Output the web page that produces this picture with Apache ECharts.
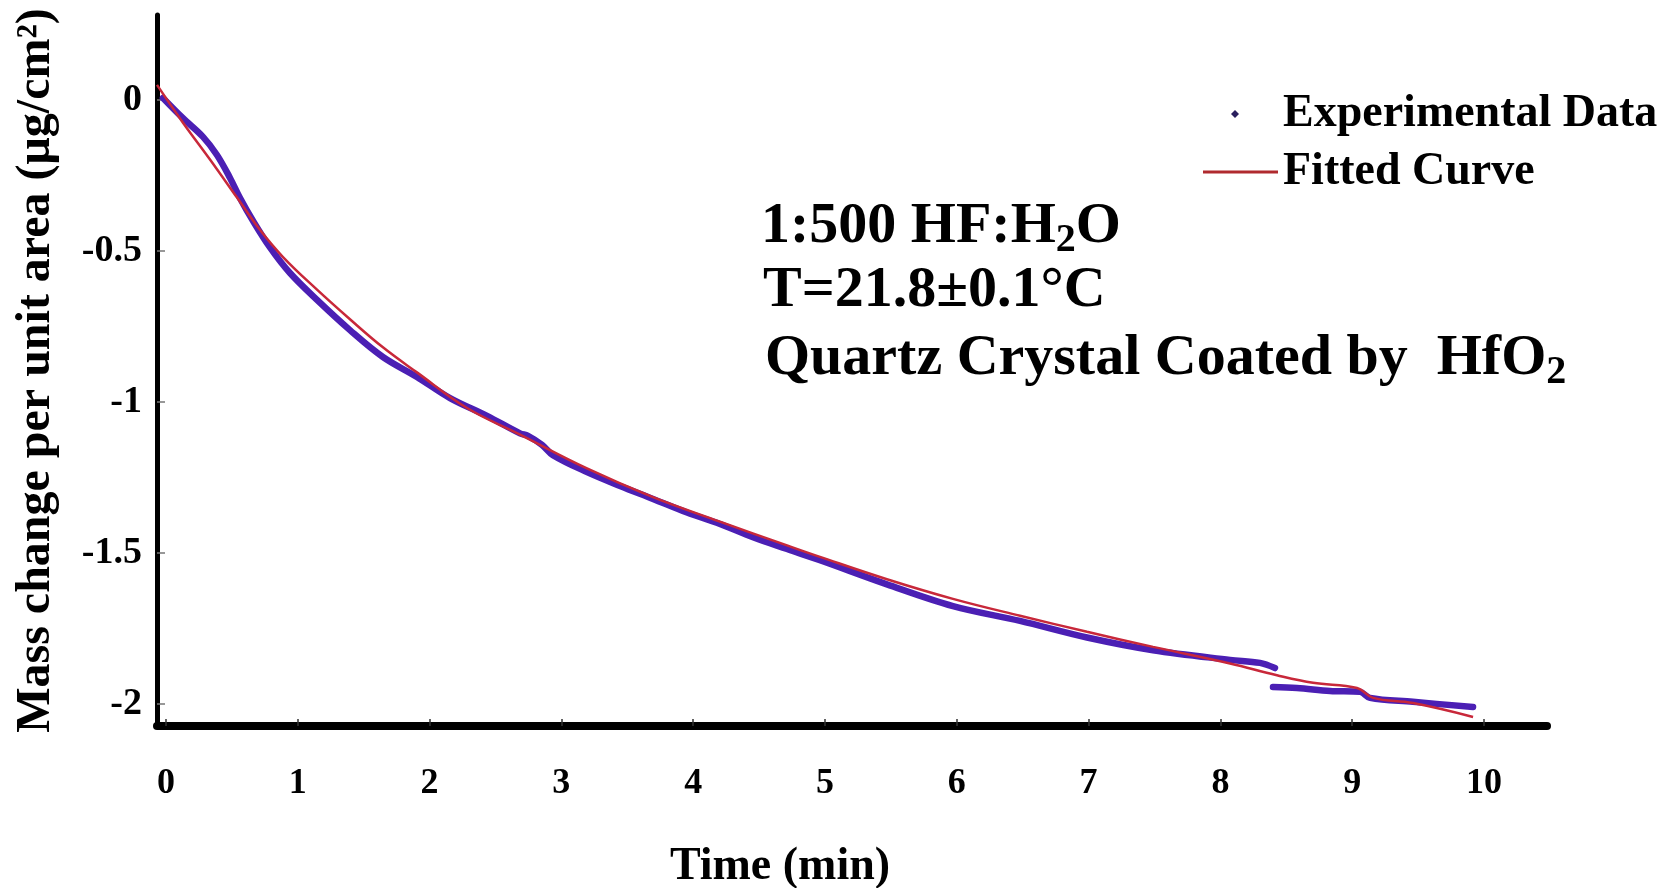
<!DOCTYPE html>
<html>
<head>
<meta charset="utf-8">
<script src="https://cdn.jsdelivr.net/npm/echarts@6/dist/echarts.min.js"></script>
<style>
  html, body { margin: 0; padding: 0; background: #ffffff; }
  #chart { width: 1677px; height: 888px; }
</style>
</head>
<body>
<div id="chart"></div>
<script>
// Etching run: time in minutes, mass change in µg/cm²
const expTime = [-0.023, 0.129, 0.281, 0.387, 0.486, 0.561, 0.660, 0.789, 0.941, 1.146,
  1.396, 1.646, 1.904, 2.155, 2.436, 2.686, 2.747, 2.853, 2.936, 3.194,
  3.445, 3.695, 3.953, 4.203, 4.454, 4.712, 4.962, 5.470, 5.971, 6.480,
  6.988, 7.489, 8.073, 8.300, 8.414, 8.410,
  8.399, 8.581, 8.832, 9.059, 9.135, 9.461, 9.917];
const expMass = [0.007, -0.060, -0.122, -0.182, -0.258, -0.324, -0.400, -0.488, -0.573, -0.662,
  -0.762, -0.851, -0.917, -0.987, -1.046, -1.104, -1.112, -1.142, -1.176, -1.232,
  -1.278, -1.321, -1.366, -1.404, -1.448, -1.487, -1.524, -1.604, -1.676, -1.725,
  -1.780, -1.822, -1.854, -1.864, -1.881, null,
  -1.944, -1.947, -1.957, -1.960, -1.980, -1.993, -2.010];

const fitTime = [-0.068, 0.129, 0.334, 0.539, 0.713, 0.888, 1.146, 1.396, 1.646, 1.904,
  2.284, 2.686, 3.194, 3.695, 4.203, 4.712, 4.962, 5.470, 5.971, 6.480,
  6.988, 7.489, 8.073, 8.429, 8.703, 9.037, 9.158, 9.461, 9.917];
const fitMass = [0.050, -0.075, -0.197, -0.323, -0.430, -0.520, -0.628, -0.726, -0.819, -0.902,
  -1.020, -1.108, -1.220, -1.315, -1.396, -1.475, -1.513, -1.587, -1.652, -1.708,
  -1.761, -1.811, -1.866, -1.905, -1.930, -1.947, -1.980, -1.997, -2.043];

const xTicks = [0, 1, 2, 3, 4, 5, 6, 7, 8, 9, 10];
const yTicks = [0, -0.5, -1, -1.5, -2];

const serif = '"Liberation Serif", "Times New Roman", serif';

const expData = expTime.map((t, i) => [t, expMass[i]]);
const fitData = fitTime.map((t, i) => [t, fitMass[i]]);

const chart = echarts.init(document.getElementById('chart'), null, { renderer: 'canvas' });

const subStyle = { fontSize: 40, fontWeight: 'bold', fontFamily: serif, fill: '#000', padding: [28, 0, 0, 0] };

chart.setOption({
  backgroundColor: '#ffffff',
  animation: false,
  grid: { left: 157, right: 130, top: 15, bottom: 162, containLabel: false, outerBoundsMode: 'none' },
  xAxis: {
    type: 'value',
    min: -0.068,
    max: 10.478,
    name: 'Time (min)',
    nameLocation: 'middle',
    nameGap: 118,
    nameTextStyle: { fontFamily: serif, fontWeight: 'bold', fontSize: 46, color: '#000', padding: [0, 144, 0, 0] },
    axisLine: { show: true, onZero: false, lineStyle: { color: '#000', width: 8 } },
    axisTick: { show: true, inside: true, length: 7, customValues: xTicks, lineStyle: { color: '#333', width: 1.5 } },
    axisLabel: { customValues: xTicks, margin: 40, fontFamily: serif, fontWeight: 'bold', fontSize: 36, color: '#000' },
    splitLine: { show: false }
  },
  yAxis: {
    type: 'value',
    min: -2.073,
    max: 0.2815,
    name: 'Mass change per unit area (μg/cm²)',
    nameLocation: 'middle',
    nameGap: 96,
    nameTextStyle: { fontFamily: serif, fontWeight: 'bold', fontSize: 48, color: '#000' },
    axisLine: { show: true, onZero: false, lineStyle: { color: '#000', width: 5 } },
    axisTick: { show: true, inside: true, length: 8, customValues: yTicks, lineStyle: { color: '#777', width: 1.5 } },
    axisLabel: { customValues: yTicks, margin: 15, fontFamily: serif, fontWeight: 'bold', fontSize: 38, color: '#000' },
    splitLine: { show: false }
  },
  legend: [
    {
      left: 1231, top: 91, padding: 0,
      itemWidth: 8, itemHeight: 8,
      selectedMode: false,
      data: [{ name: 'Experimental Data', icon: 'diamond', itemStyle: { color: '#2a1f5e' } }],
      textStyle: { fontFamily: serif, fontWeight: 'bold', fontSize: 46, lineHeight: 46, color: '#000', padding: [0, 0, 0, 39] }
    },
    {
      left: 1203, top: 149, padding: 0,
      itemWidth: 75, itemHeight: 3,
      selectedMode: false,
      data: [{ name: 'Fitted Curve', icon: 'rect', itemStyle: { color: '#b02a2e' } }],
      textStyle: { fontFamily: serif, fontWeight: 'bold', fontSize: 46, lineHeight: 46, color: '#000' }
    }
  ],
  graphic: [
    {
      type: 'text', left: 761, top: 194, silent: true,
      style: {
        text: '1:500 HF:H{s|2}O',
        font: 'bold 58px ' + serif, fill: '#000', lineHeight: 66,
        rich: { s: subStyle }
      }
    },
    {
      type: 'text', left: 763, top: 258, silent: true,
      style: { text: 'T=21.8±0.1°C', font: 'bold 58px ' + serif, fill: '#000', lineHeight: 66 }
    },
    {
      type: 'text', left: 765, top: 326, silent: true,
      style: {
        text: 'Quartz Crystal Coated by  HfO{s|2}',
        font: 'bold 58px ' + serif, fill: '#000', lineHeight: 66,
        rich: { s: subStyle }
      }
    }
  ],
  series: [
    {
      name: 'Experimental Data',
      type: 'line',
      data: expData,
      showSymbol: false,
      connectNulls: false,
      smooth: 0.35,
      lineStyle: { color: '#4b1fb4', width: 6.5, cap: 'round', join: 'round' },
      itemStyle: { color: '#2a1f5e' },
      z: 2
    },
    {
      name: 'Fitted Curve',
      type: 'line',
      data: fitData,
      showSymbol: false,
      smooth: 0.4,
      lineStyle: { color: '#c8283a', width: 2.5 },
      itemStyle: { color: '#b02a2e' },
      z: 3
    }
  ]
});
</script>
</body>
</html>
